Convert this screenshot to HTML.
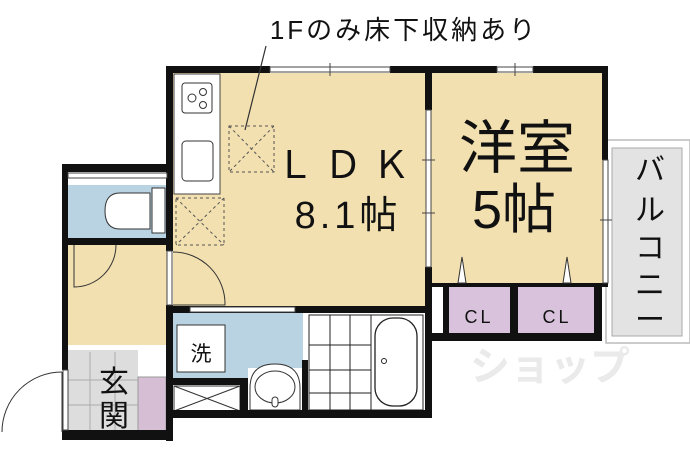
<!DOCTYPE html>
<html><head><meta charset="utf-8"><style>
html,body{margin:0;padding:0;background:#fff;width:690px;height:460px;overflow:hidden}
text{font-family:"Liberation Sans","Noto Sans CJK JP",sans-serif;fill:#111}
</style></head><body>
<svg width="690" height="460" viewBox="0 0 690 460" xmlns="http://www.w3.org/2000/svg">
<rect x="606" y="140" width="84" height="203" fill="#fff" stroke="#bbb" stroke-width="1.5"/>
<rect x="612" y="148" width="70" height="188" fill="#e3e3e3" stroke="#aaa" stroke-width="1"/>
<rect x="173" y="73" width="254" height="236" fill="#f3e0b0"/>
<rect x="430" y="73" width="174" height="210" fill="#f3e0b0"/>
<rect x="68" y="185" width="99" height="54" fill="#b9d3e2"/>
<rect x="68" y="245" width="99" height="100" fill="#f3e0b0"/>
<rect x="68" y="350" width="70" height="83" fill="#ddd"/>
<rect x="138" y="377" width="28" height="56" fill="#d6bfd4" stroke="#999" stroke-width="1"/>
<rect x="173" y="313" width="130" height="65" fill="#b9d3e2"/>
<rect x="449" y="287" width="61" height="48" fill="#d9c2dc"/>
<rect x="518" y="287" width="76" height="48" fill="#d9c2dc"/>
<g stroke="#aaa" stroke-width="1">
<line x1="68" y1="380" x2="138" y2="380"/><line x1="68" y1="405" x2="138" y2="405"/>
<line x1="115" y1="352" x2="115" y2="433"/><line x1="90" y1="352" x2="90" y2="433"/>
</g>
<g stroke="#222" stroke-width="1">
<rect x="309" y="315" width="62" height="95" fill="#fff"/>
<line x1="309" y1="345" x2="371" y2="345"/><line x1="309" y1="370" x2="371" y2="370"/><line x1="309" y1="393" x2="371" y2="393"/>
<line x1="330" y1="315" x2="330" y2="410"/><line x1="350" y1="315" x2="350" y2="410"/>
</g>
<rect x="371" y="315" width="52" height="95" fill="#fff" stroke="#222"/>
<rect x="375" y="318" width="42" height="88" rx="18" fill="#fff" stroke="#222" stroke-width="1.3"/>
<circle cx="384" cy="361" r="2.5" fill="none" stroke="#222"/>
<rect x="174" y="74" width="46" height="120" fill="#fff" stroke="#444"/>
<rect x="182" y="83" width="30" height="30" rx="3" fill="#fff" stroke="#333"/>
<circle cx="192" cy="98" r="4" fill="none" stroke="#333"/><circle cx="203" cy="92" r="3.5" fill="none" stroke="#333"/><circle cx="203" cy="105" r="3.5" fill="none" stroke="#333"/>
<rect x="182" y="141" width="31" height="40" rx="4" fill="#fff" stroke="#333"/>
<g stroke="#555" stroke-dasharray="3,3" fill="none">
<rect x="176" y="198" width="48" height="47"/><line x1="176" y1="198" x2="224" y2="245"/><line x1="224" y1="198" x2="176" y2="245"/>
<rect x="229" y="126" width="45" height="46"/><line x1="229" y1="126" x2="274" y2="172"/><line x1="274" y1="126" x2="229" y2="172"/>
</g>
<rect x="177" y="325" width="48" height="47" fill="#fff" stroke="#333"/>
<text x="201" y="361" font-size="21" text-anchor="middle">洗</text>
<rect x="174" y="386" width="66" height="25" fill="#fff" stroke="#333"/>
<line x1="174" y1="386" x2="240" y2="411" stroke="#333"/><line x1="240" y1="386" x2="174" y2="411" stroke="#333"/>
<rect x="248" y="368" width="54" height="43" fill="#fff"/>
<path d="M250 410 V388 Q250 364 275 364 Q300 364 300 388 V410 Z" fill="#fff" stroke="#333"/>
<ellipse cx="275" cy="387" rx="20" ry="16" fill="none" stroke="#333"/>
<rect x="272" y="397" width="6" height="10" rx="3" fill="#fff" stroke="#333"/>
<path d="M150 193 H120 Q105 193 105 211 Q105 229 120 229 H150 Z" fill="#fff" stroke="#333"/>
<rect x="152" y="188" width="13" height="45" fill="#fff" stroke="#333"/>
<g fill="#111">
<rect x="166" y="66" width="104" height="7"/>
<rect x="390" y="66" width="107" height="7"/>
<rect x="533" y="66" width="75" height="7"/>
<rect x="602" y="66" width="6" height="94"/>
<rect x="425" y="66" width="7" height="44"/>
<rect x="425" y="267" width="7" height="151"/>
<rect x="166" y="66" width="7" height="185"/>
<rect x="166" y="305" width="7" height="136"/>
<rect x="62" y="164" width="111" height="8"/>
<rect x="62" y="164" width="6" height="206"/>
<rect x="62" y="430" width="111" height="10"/>
<rect x="68" y="238" width="99" height="7"/>
<rect x="166" y="306" width="266" height="7"/>
<rect x="173" y="410" width="259" height="8"/>
<rect x="173" y="378" width="75" height="7"/>
<rect x="240" y="378" width="8" height="34"/>
<rect x="302" y="360" width="6" height="52"/>
<rect x="432" y="283" width="176" height="4"/>
<rect x="432" y="333" width="170" height="8"/>
<rect x="443" y="283" width="6" height="55"/>
<rect x="510" y="283" width="8" height="55"/>
<rect x="594" y="283" width="8" height="55"/>
</g>
<g stroke="#444" stroke-width="1" fill="#fff">
<rect x="270" y="67" width="120" height="5"/>
<rect x="497" y="67" width="36" height="5"/>
<rect x="426" y="110" width="5" height="157"/>
<rect x="603" y="160" width="5" height="123"/>
<rect x="63" y="370" width="5" height="60"/>
<rect x="68" y="173" width="99" height="5"/>
<rect x="190" y="307" width="105" height="5"/>
<rect x="167" y="251" width="5" height="54"/>
</g>
<g stroke="#444" stroke-width="1">
<line x1="330" y1="63" x2="330" y2="76"/><line x1="515" y1="63" x2="515" y2="76"/>
<line x1="422" y1="160" x2="435" y2="160"/><line x1="422" y1="213" x2="435" y2="213"/><line x1="600" y1="220" x2="612" y2="220"/>
</g>
<g fill="none" stroke="#333" stroke-width="1">
<path d="M62 372 A60 60 0 0 0 2 432"/><line x1="62" y1="432" x2="62" y2="372"/>
<path d="M173 252 A52 52 0 0 1 225 305 H173"/>
<path d="M116 245 A42 42 0 0 1 74 287 V245"/>
</g>
<path d="M458 283 L462 257 L466 283 Z" fill="#fff" stroke="#333"/>
<path d="M563 283 L567 257 L571 283 Z" fill="#fff" stroke="#333"/>
<text x="404" y="39" font-size="26" text-anchor="middle" letter-spacing="3">1Fのみ床下収納あり</text>
<line x1="266" y1="46" x2="245" y2="130" stroke="#333" stroke-width="1.2"/>
<text x="348" y="178" font-size="38" text-anchor="middle" letter-spacing="10">ＬＤＫ</text>
<text x="348" y="228" font-size="38" text-anchor="middle" letter-spacing="4">8.1帖</text>
<text x="517" y="168" font-size="58" text-anchor="middle">洋室</text>
<text x="514" y="228" font-size="54" text-anchor="middle">5帖</text>
<text x="479" y="323" font-size="18" text-anchor="middle" letter-spacing="3">CL</text>
<text x="557" y="323" font-size="18" text-anchor="middle" letter-spacing="3">CL</text>
<text x="114" y="392" font-size="30" text-anchor="middle">玄</text>
<text x="114" y="426" font-size="30" text-anchor="middle">関</text>
<g font-size="30" text-anchor="middle"><text x="650" y="180">バ</text><text x="650" y="220">ル</text><text x="650" y="258">コ</text><text x="650" y="295">ニ</text><text x="650" y="330">ー</text></g>
<text x="550" y="380" font-size="40" text-anchor="middle" style="fill:#ddd;opacity:.6" font-weight="bold">ショップ</text>
</svg>
</body></html>
